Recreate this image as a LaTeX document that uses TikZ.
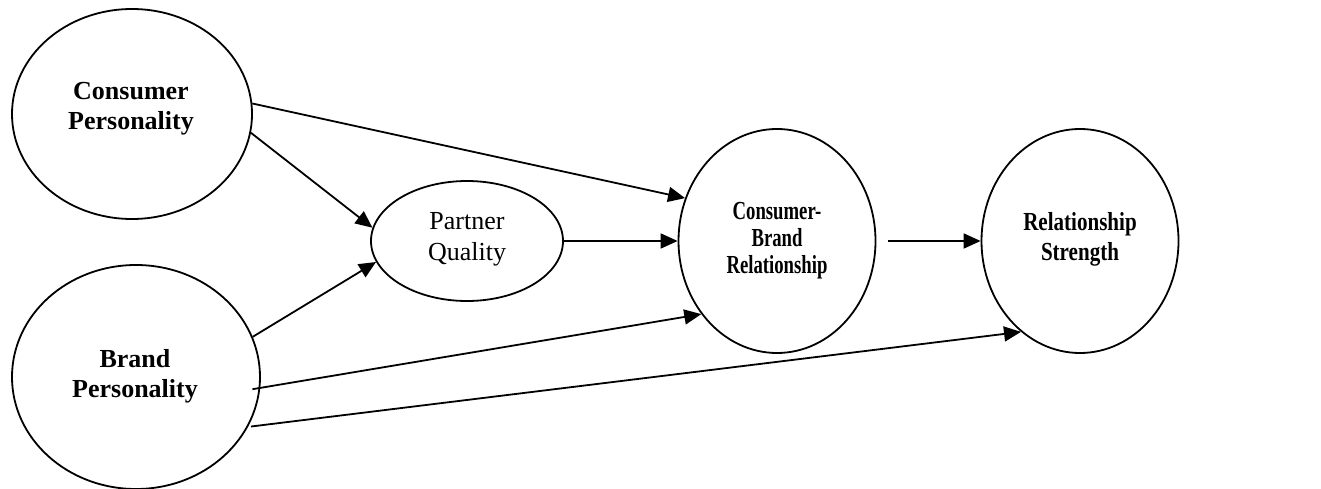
\documentclass[tikz,border=0pt]{standalone}
\usepackage{fontspec}
\setmainfont{Liberation Serif}
% condensed faces for the two right-hand constructs
\newfontfamily\narrowA[FakeStretch=0.72]{Liberation Serif}
\newfontfamily\narrowB[FakeStretch=0.81]{Liberation Serif}
\usetikzlibrary{shapes.geometric,arrows.meta}

\begin{document}
\begin{tikzpicture}[x=1pt,y=-1pt,
  construct/.style={draw, ellipse, line width=1.8pt, inner sep=0pt},
  txt/.style={align=center, inner sep=0pt},
  link/.style={-{Triangle[length=17pt,width=15pt]}, line width=1.8pt}
]
\useasboundingbox (0,0) rectangle (1321,489);

% constructs
\node[construct, minimum width=240pt, minimum height=210pt] (cp)  at (132,114)  {};
\node[construct, minimum width=248pt, minimum height=224pt] (bp)  at (136,377)  {};
\node[construct, minimum width=192pt, minimum height=120pt] (pq)  at (467,241)  {};
\node[construct, minimum width=197pt, minimum height=224pt] (cbr) at (777,241)  {};
\node[construct, minimum width=197pt, minimum height=224pt] (rs)  at (1080,241) {};

% construct names
\node[txt, font=\bfseries\fontsize{26}{30}\selectfont] (cpt) at (131,108.8) {Consumer\\Personality};
\node[txt, font=\bfseries\fontsize{26}{30}\selectfont] (bpt) at (135,375.8) {Brand\\Personality};
\node[txt, font=\fontsize{26}{31}\selectfont] (pqt) at (467,239.6) {Partner\\Quality};
\node[txt, font=\narrowA\bfseries\fontsize{26}{26.7}\selectfont] (cbrt) at (777,240.5) {Consumer-\\Brand\\Relationship};
\node[txt, font=\narrowB\bfseries\fontsize{26}{30}\selectfont] (rst) at (1080,238.9) {Relationship\\Strength};

% paths
\draw[link] (cp.5)  -- (cbr.155);
\draw[link] (cp.-9) -- (pq.172);
\draw[link] (bp.19) -- (pq.193);
\draw[link] (pq.east) -- (cbr.west);
\draw[link, shorten <=-8pt] (bp.-5) -- (cbr.224);
\draw[link, shorten <=3pt] (bp.-24) -- (rs.237);
\draw[link, shorten <=12pt] (cbr.east) -- (rs.west);
\end{tikzpicture}
\end{document}
